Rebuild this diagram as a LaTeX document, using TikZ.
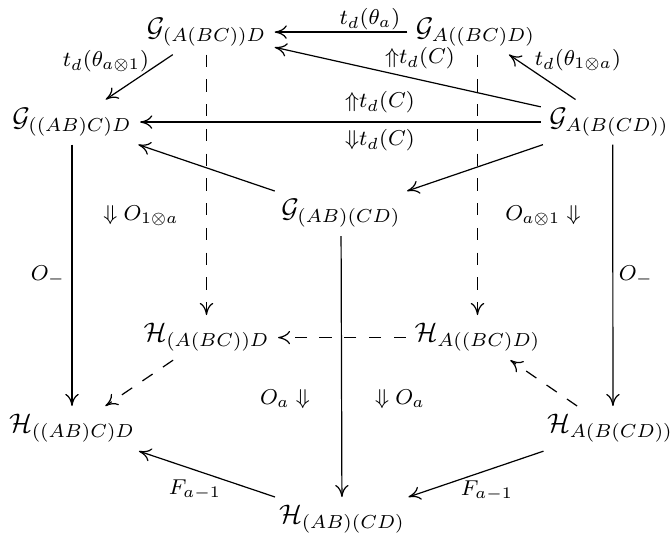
\documentclass[tikz,border=0pt]{standalone}
\usetikzlibrary{arrows.meta}
\begin{document}
\begin{tikzpicture}[x=0.372pt,y=-0.372pt,
  obj/.style={anchor=base, inner sep=3pt},
  lab/.style={font=\footnotesize, inner sep=0pt},
  arr/.style={-{Computer Modern Rightarrow[length=4.5pt,width=5pt]}, line width=0.45pt},
  darr/.style={arr, dash pattern=on 4.6pt off 4.6pt}]
\useasboundingbox (0,0) rectangle (671,536);
% objects
\node[obj] (g1) at (206.5,36.5) {$\mathcal{G}_{(A(BC))D}$};
\node[obj] (g2) at (475.5,36.5) {$\mathcal{G}_{A((BC)D)}$};
\node[obj] (g3) at (72,126.5) {$\mathcal{G}_{((AB)C)D}$};
\node[obj] (g4) at (609,126.5) {$\mathcal{G}_{A(B(CD))}$};
\node[obj] (g5) at (341,218) {$\mathcal{G}_{(AB)(CD)}$};
\node[obj] (h1) at (206.5,342) {$\mathcal{H}_{(A(BC))D}$};
\node[obj] (h2) at (477.5,342) {$\mathcal{H}_{A((BC)D)}$};
\node[obj] (h3) at (72,433) {$\mathcal{H}_{((AB)C)D}$};
\node[obj] (h4) at (610,433) {$\mathcal{H}_{A(B(CD))}$};
\node[obj] (h5) at (342,524) {$\mathcal{H}_{(AB)(CD)}$};
% solid arrows
\draw[arr] (g2) -- (g1);
\draw[arr] (g1) -- (g3);
\draw[arr] (g4) -- (g1);
\draw[arr] (g4) -- (g2);
\draw[arr] (g4) -- (g3);
\draw[arr] (g5) -- (g3);
\draw[arr] (g4) -- (g5);
\draw[arr] (g3) -- (h3);
\draw[arr] ([xshift=1.4pt]g4.south) -- ([xshift=1.1pt]h4.north);
\draw[arr] (g5) -- (h5);
\draw[arr] (h5) -- (h3);
\draw[arr] (h4) -- (h5);
% dashed arrows
\draw[darr] (g1) -- (h1);
\draw[darr] (g2.south -| h2) -- (h2);
\draw[darr] (h2) -- (h1);
\draw[darr] (h1) -- (h3);
\draw[darr] (h4) -- (h2);
% labels
\node[lab] (l1) at (370,19) {$t_d(\theta_a)$};
\node[lab] (l2) at (106,61) {$t_d(\theta_{a\otimes 1})$};
\node[lab] (l3) at (420,58) {${\Uparrow}t_d(C)$};
\node[lab] (l4) at (578,60) {$t_d(\theta_{1\otimes a})$};
\node[lab] (l5) at (380,102) {${\Uparrow}t_d(C)$};
\node[lab] (l6) at (380,140) {${\Downarrow}t_d(C)$};
\node[lab] (l7) at (141,216) {$\Downarrow O_{1\otimes a}$};
\node[lab] (l8) at (543,216) {$O_{a\otimes 1} \Downarrow$};
\node[lab] (l9) at (48,276) {$O_-$};
\node[lab] (l10) at (636,276) {$O_-$};
\node[lab] (l11) at (285,399) {$O_a \Downarrow$};
\node[lab] (l12) at (400,399) {$\Downarrow O_a$};
\node[lab] (l13) at (195,490) {$F_{a-1}$};
\node[lab] (l14) at (487,491) {$F_{a-1}$};
\end{tikzpicture}
\end{document}
